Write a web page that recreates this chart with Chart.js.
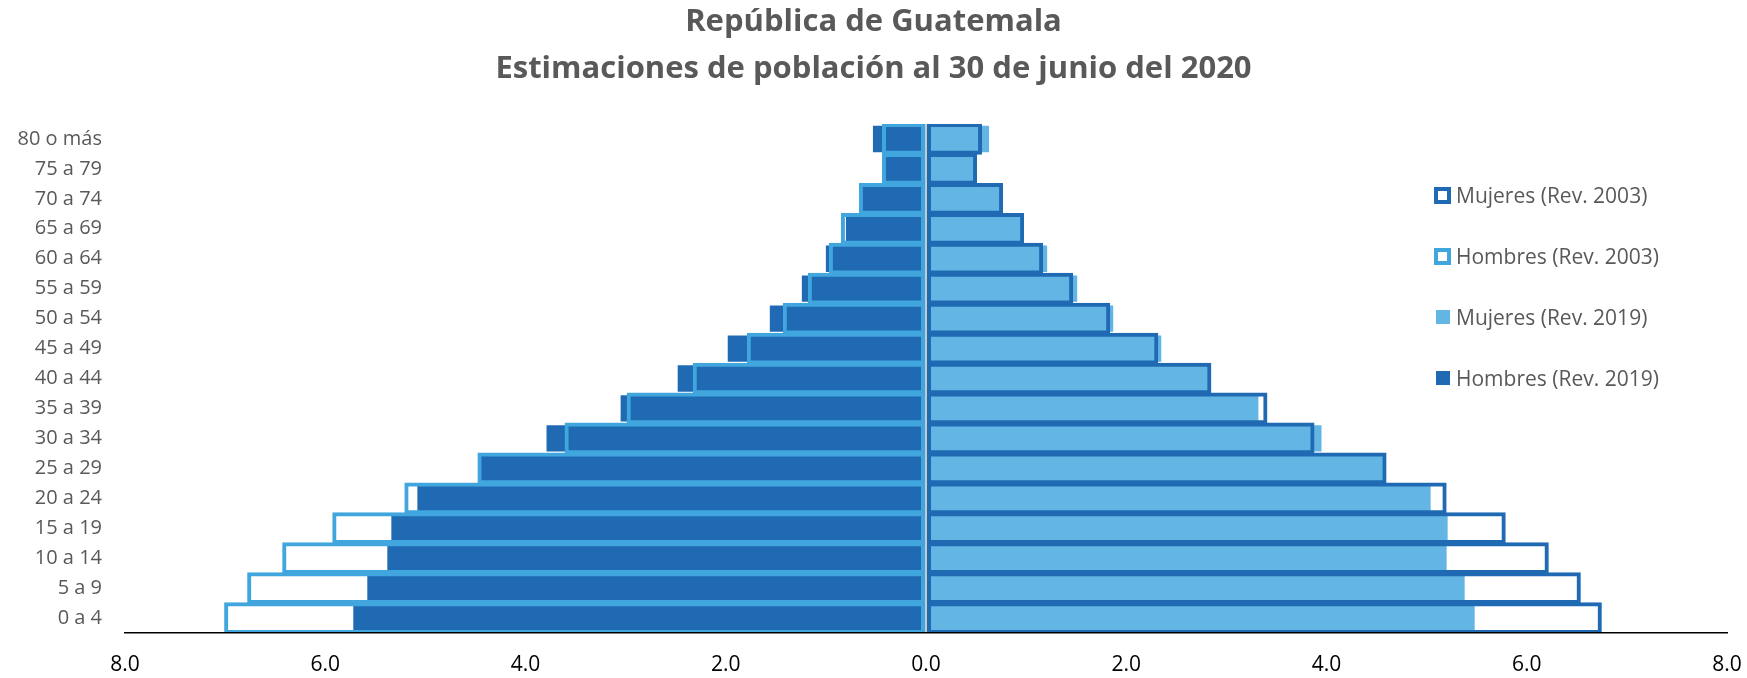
<!DOCTYPE html>
<html>
<head>
    <meta charset="utf-8">
    <title>República de Guatemala - Estimaciones de población</title>
    <script src="https://cdn.jsdelivr.net/npm/chart.js"></script>
    <style>
        html, body { margin: 0; padding: 0; background: #fff; }
        .wrap { position: relative; width: 1747px; height: 678px; font-family: 'Open Sans', sans-serif; }
        .title { position: absolute; left: 0; top: -4px; width: 1747px; text-align: center;
                 font-weight: bold; font-size: 31px; line-height: 47px; color: #595959; }
        .legend { position: absolute; left: 1434px; top: 0; }
        .legend-item { position: absolute; left: 0; height: 30px; display: flex; align-items: center;
                       white-space: nowrap; font-size: 21px; color: #595959; }
        .legend-box { box-sizing: border-box; margin-right: 5px; }
        canvas { position: absolute; left: 0; top: 0; }
    </style>
</head>
<body>
    <div class="wrap">
        <canvas id="pyramid" width="1747" height="678"></canvas>
        <div class="title">
            <div>República de Guatemala</div>
            <div>Estimaciones de población al 30 de junio del 2020</div>
        </div>
        <div class="legend" id="legend"></div>
    </div>

    <script>
        // age groups, bottom to top
        const ageGroups = ['0 a 4', '5 a 9', '10 a 14', '15 a 19', '20 a 24', '25 a 29', '30 a 34', '35 a 39',
                           '40 a 44', '45 a 49', '50 a 54', '55 a 59', '60 a 64', '65 a 69', '70 a 74', '75 a 79', '80 o más'];

        // percent of total population
        const hombres2019 = [5.72, 5.58, 5.38, 5.34, 5.08, 4.46, 3.79, 3.05, 2.48, 1.98, 1.56, 1.24, 1.00, 0.80, 0.64, 0.42, 0.53];
        const mujeres2019 = [5.48, 5.38, 5.20, 5.21, 5.04, 4.58, 3.95, 3.32, 2.82, 2.35, 1.87, 1.51, 1.21, 0.97, 0.75, 0.50, 0.63];
        const hombres2003 = [7.01, 6.78, 6.43, 5.93, 5.21, 4.48, 3.61, 2.99, 2.33, 1.79, 1.43, 1.18, 0.97, 0.85, 0.67, 0.44, 0.44];
        const mujeres2003 = [6.75, 6.54, 6.22, 5.79, 5.20, 4.60, 3.88, 3.41, 2.85, 2.32, 1.84, 1.47, 1.17, 0.98, 0.77, 0.51, 0.56];

        const xTicks = [-8, -6, -4, -2, 0, 2, 4, 6, 8];

        const darkBlue = '#1F6AB3';
        const lightBlue = '#63B6E3';
        const lightLine = '#41A6DD';

        const neg = arr => arr.map(v => -v);

        // outlines first so they are drawn on top
        const datasets = [
            { label: 'Mujeres (Rev. 2003)', data: mujeres2003, backgroundColor: 'rgba(0,0,0,0)',
              borderColor: darkBlue, borderWidth: 4, borderSkipped: false, barPercentage: 1.06, outline: true },
            { label: 'Hombres (Rev. 2003)', data: neg(hombres2003), backgroundColor: 'rgba(0,0,0,0)',
              borderColor: lightLine, borderWidth: 4, borderSkipped: false, barPercentage: 1.06, outline: true },
            { label: 'Mujeres (Rev. 2019)', data: mujeres2019, backgroundColor: lightBlue,
              borderWidth: 0, barPercentage: 0.88 },
            { label: 'Hombres (Rev. 2019)', data: neg(hombres2019), backgroundColor: darkBlue,
              borderWidth: 0, barPercentage: 0.88 }
        ];

        const ctx = document.getElementById('pyramid').getContext('2d');
        const chart = new Chart(ctx, {
            type: 'bar',
            data: { labels: ageGroups, datasets: datasets },
            options: {
                indexAxis: 'y',
                responsive: false,
                animation: false,
                devicePixelRatio: 1,
                grouped: false,
                categoryPercentage: 1,
                layout: { padding: { top: 124, right: 20, left: 0, bottom: 0 } },
                plugins: { legend: { display: false }, tooltip: { enabled: false }, title: { display: false } },
                scales: {
                    x: {
                        min: -8, max: 8,
                        afterBuildTicks: scale => { scale.ticks = xTicks.map(v => ({ value: v })); },
                        afterFit: scale => {
                            scale.height = 45;
                            scale.paddingLeft = 0;
                            scale.paddingRight = 0;
                        },
                        grid: {
                            z: 1,
                            drawTicks: false,
                            lineWidth: 2,
                            color: c => (c.tick && c.tick.value === 0) ? '#C8C8C8' : 'rgba(0,0,0,0)'
                        },
                        border: { display: true, z: 1, color: '#000', width: 1.5 },
                        ticks: {
                            padding: 19,
                            color: '#000',
                            font: { family: 'Open Sans', size: 21 },
                            callback: v => Math.abs(v).toFixed(1)
                        }
                    },
                    y: {
                        reverse: true,
                        afterFit: scale => { scale.width = 125; },
                        grid: { display: false, drawTicks: false },
                        border: { display: false },
                        ticks: {
                            padding: 23,
                            color: '#595959',
                            font: { family: 'Open Sans', size: 20 }
                        }
                    }
                }
            }
        });

        // legend on the right, inside the plot
        const legendEl = document.getElementById('legend');
        datasets.forEach((ds, i) => {
            const item = document.createElement('div');
            item.className = 'legend-item';
            item.style.top = (180 + i * 61) + 'px';
            const box = document.createElement('span');
            box.className = 'legend-box';
            if (ds.outline) {
                box.style.width = '17px'; box.style.height = '17px';
                box.style.border = '4px solid ' + ds.borderColor;
                box.style.background = '#fff';
            } else {
                box.style.width = '14px'; box.style.height = '14px';
                box.style.marginLeft = '2px'; box.style.marginRight = '6px';
                box.style.background = ds.backgroundColor;
            }
            const txt = document.createElement('span');
            txt.textContent = ds.label;
            item.appendChild(box);
            item.appendChild(txt);
            legendEl.appendChild(item);
        });
    </script>
</body>
</html>
